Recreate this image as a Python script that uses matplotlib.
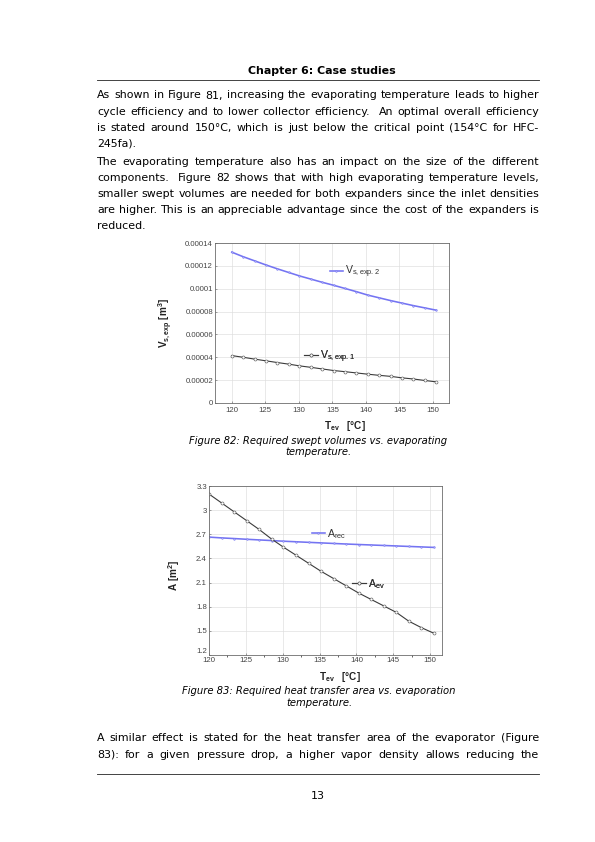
import matplotlib
matplotlib.use('Agg')
import matplotlib.pyplot as plt
from matplotlib.ticker import FuncFormatter, MultipleLocator

W, H = 595, 842

# ---- data ----
t_ev = [120.0, 121.7, 123.4, 125.1, 126.8, 128.5, 130.1, 131.8, 133.5, 135.2,
        136.9, 138.6, 140.3, 142.0, 143.7, 145.4, 147.1, 148.8, 150.5]
vs_exp2 = [13.20e-5, 12.80e-5, 12.44e-5, 12.08e-5, 11.74e-5, 11.42e-5, 11.12e-5, 10.84e-5,
           10.56e-5, 10.30e-5, 10.02e-5, 9.74e-5, 9.44e-5, 9.20e-5, 8.96e-5, 8.74e-5,
           8.52e-5, 8.32e-5, 8.12e-5]
vs_exp1 = [4.15e-5, 4.00e-5, 3.84e-5, 3.69e-5, 3.54e-5, 3.40e-5, 3.25e-5, 3.12e-5,
           2.98e-5, 2.84e-5, 2.74e-5, 2.63e-5, 2.52e-5, 2.42e-5, 2.33e-5, 2.20e-5,
           2.10e-5, 1.97e-5, 1.85e-5]
a_ev = [3.20, 3.09, 2.98, 2.87, 2.76, 2.64, 2.54, 2.44, 2.34, 2.24,
        2.15, 2.06, 1.97, 1.89, 1.81, 1.73, 1.62, 1.54, 1.47]
a_rec = [2.665, 2.655, 2.647, 2.638, 2.630, 2.622, 2.614, 2.607, 2.600, 2.593,
         2.586, 2.579, 2.573, 2.567, 2.561, 2.555, 2.549, 2.543, 2.537]
vs_ticks = [0, 0.00002, 0.00004, 0.00006, 0.00008, 0.0001, 0.00012, 0.00014]
a_ticks = [1.2, 1.5, 1.8, 2.1, 2.4, 2.7, 3.0, 3.3]
t_ticks = [120, 125, 130, 135, 140, 145, 150]

header = 'Chapter 6: Case studies'
para1 = ['As shown in Figure 81, increasing the evaporating temperature leads to higher',
         'cycle efficiency and to lower collector efficiency.  An optimal overall efficiency',
         'is stated around 150°C, which is just below the critical point (154°C for HFC-',
         '245fa).']
para2 = ['The evaporating temperature also has an impact on the size of the different',
         'components.  Figure 82 shows that with high evaporating temperature levels,',
         'smaller swept volumes are needed for both expanders since the inlet densities',
         'are higher. This is an appreciable advantage since the cost of the expanders is',
         'reduced.']
para3 = ['A similar effect is stated for the heat transfer area of the evaporator (Figure',
         '83): for a given pressure drop, a higher vapor density allows reducing the']
cap82 = ['Figure 82: Required swept volumes vs. evaporating', 'temperature.']
cap83 = ['Figure 83: Required heat transfer area vs. evaporation', 'temperature.']
page_no = '13'

plt.rcParams['font.family'] = 'DejaVu Sans'
plt.rcParams['mathtext.fontset'] = 'custom'
plt.rcParams['mathtext.rm'] = 'Liberation Sans'
plt.rcParams['mathtext.it'] = 'Liberation Sans:italic'
plt.rcParams['mathtext.bf'] = 'Liberation Sans:bold'

fig = plt.figure(figsize=(W / 72, H / 72), dpi=72)
fig.patch.set_facecolor('white')
renderer = fig.canvas.get_renderer()

X0, X1 = 97, 539
BODY = 11


def fx(x):
    return x / W


def fy(y):
    return 1 - y / H


def paragraph(lines, y0, lh, justify_last=False, size=BODY):
    for i, line in enumerate(lines):
        y = y0 + i * lh
        last = (i == len(lines) - 1) and not justify_last
        if last:
            fig.text(fx(X0), fy(y), line, fontsize=size, va='baseline', ha='left')
            continue
        words = line.split(' ')
        widths = []
        for w in words:
            if w == '':
                widths.append(0)
                continue
            t = fig.text(0, 0, w, fontsize=size)
            widths.append(t.get_window_extent(renderer).width)
            t.remove()
        gap = (X1 - X0 - sum(widths)) / (len(words) - 1)
        x = X0
        for w, wd in zip(words, widths):
            if w:
                fig.text(fx(x), fy(y), w, fontsize=size, va='baseline', ha='left')
            x += wd + gap


# header and rules
fig.text(fx(322), fy(73.5), header, fontsize=BODY, fontweight='bold', ha='center', va='baseline')
fig.add_artist(plt.Line2D([fx(X0), fx(X1)], [fy(80), fy(80)], color='#333333', lw=0.9))
fig.add_artist(plt.Line2D([fx(X0), fx(X1)], [fy(774), fy(774)], color='#333333', lw=0.9))
fig.text(fx(318), fy(799), page_no, fontsize=BODY, ha='center', va='baseline')

paragraph(para1, 98.5, 16.1)
paragraph(para2, 165, 16.1)
paragraph(para3, 741, 16.5, justify_last=True)

for i, line in enumerate(cap82):
    fig.text(fx(318), fy(443.5 + i * 11.8), line, fontsize=10, style='italic', ha='center', va='baseline')
for i, line in enumerate(cap83):
    fig.text(fx(319), fy(694.5 + i * 11.8), line, fontsize=10, style='italic', ha='center', va='baseline')

tick_font = {'family': 'Liberation Sans', 'size': 7.8, 'color': '#444444'}
lab_font = {'family': 'Liberation Sans', 'size': 10, 'weight': 'bold', 'color': '#222222'}
blue = '#7474f2'
dark = '#3a3a3a'


def style_axes(ax):
    ax.grid(True, color='#dcdcdc', lw=0.6)
    ax.set_axisbelow(True)
    for s in ax.spines.values():
        s.set_color('#666666')
        s.set_linewidth(0.8)
    ax.tick_params(direction='in', length=2, width=0.6, color='#666666', pad=2)
    for lab in ax.get_xticklabels() + ax.get_yticklabels():
        lab.set_fontfamily(tick_font['family'])
        lab.set_fontsize(tick_font['size'])
        lab.set_color(tick_font['color'])


def inline_legend(ax, line, label, xy):
    leg = ax.legend([line], [label], loc='center left', bbox_to_anchor=xy,
                    frameon=False, handlelength=1.3, handletextpad=0.2,
                    borderpad=0, borderaxespad=0, numpoints=1,
                    prop={'family': 'Liberation Sans', 'size': 10.5})
    for t in leg.get_texts():
        t.set_color('#333333')
    ax.add_artist(leg)


# ---- Figure 82 ----
ax1 = fig.add_axes([fx(215), fy(403), 234 / W, 160 / H])
l2, = ax1.plot(t_ev, vs_exp2, color=blue, lw=1.6, marker='o', ms=1.8,
               mfc='#a8a8f8', mec=blue, mew=0.4)
l1, = ax1.plot(t_ev, vs_exp1, color=dark, lw=1.1, marker='o', ms=3,
               mfc='white', mec='#555555', mew=0.6)
ax1.set_xlim(117.5, 152.4)
ax1.set_ylim(0, 0.00014)
ax1.set_xticks(t_ticks)
ax1.set_yticks(vs_ticks)
ax1.yaxis.set_major_formatter(FuncFormatter(lambda v, p: ('%.5f' % v).rstrip('0').rstrip('.')))
style_axes(ax1)
ax1.tick_params(axis='x', pad=4)
ax1.set_xlabel(r'$\mathbf{T_{ev}}$   [°C]', fontdict=lab_font)
ax1.xaxis.set_label_coords(0.556, -0.1)
ax1.set_ylabel(r'$\mathbf{V_{s,exp}}$ [m$\mathbf{^3}$]', fontdict=lab_font)
ax1.yaxis.set_label_coords(-0.17, 0.5)
inline_legend(ax1, l2, r'V$_{\mathrm{s,exp.2}}$', (0.49, 0.82))
inline_legend(ax1, l1, r'V$_{\mathrm{s,exp.1}}$', (0.38, 0.29))

# ---- Figure 83 ----
ax2 = fig.add_axes([fx(209), fy(655), 233 / W, 169 / H])
r2, = ax2.plot(t_ev, a_rec, color=blue, lw=1.6, marker='o', ms=1.8,
               mfc='#a8a8f8', mec=blue, mew=0.4)
r1, = ax2.plot(t_ev, a_ev, color=dark, lw=1.1, marker='o', ms=3,
               mfc='white', mec='#555555', mew=0.6)
ax2.set_xlim(120, 151.6)
ax2.set_ylim(1.2, 3.3)
ax2.set_xticks(t_ticks)
ax2.set_yticks(a_ticks)
ax2.yaxis.set_major_formatter(FuncFormatter(lambda v, p: '%g' % round(v, 2)))
ax2.xaxis.set_minor_locator(MultipleLocator(2.5))
style_axes(ax2)
ax2.tick_params(axis='x', pad=2.5)
# lowest y label sits just above the corner, as in the original
ax2.yaxis.get_major_ticks()[0].label1.set_verticalalignment('bottom')
ax2.set_xlabel(r'$\mathbf{T_{ev}}$   [°C]', fontdict=lab_font)
ax2.xaxis.set_label_coords(0.56, -0.09)
ax2.set_ylabel(r'A [m$\mathbf{^2}$]', fontdict=lab_font)
ax2.yaxis.set_label_coords(-0.115, 0.47)
inline_legend(ax2, r2, r'A$_{\mathrm{rec}}$', (0.44, 0.716))
inline_legend(ax2, r1, r'A$_{\mathrm{ev}}$', (0.615, 0.42))

fig.savefig('out.png', dpi=72)
